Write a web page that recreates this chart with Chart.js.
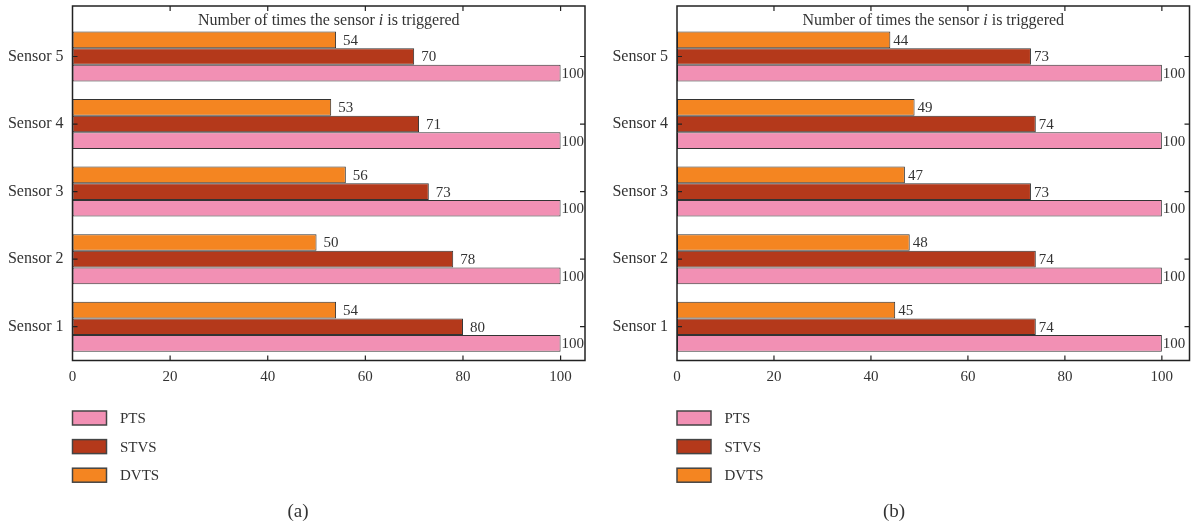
<!DOCTYPE html>
<html>
<head>
<meta charset="utf-8">
<script src="https://cdn.jsdelivr.net/npm/chart.js@4/dist/chart.umd.min.js"></script>
<style>
  body { margin: 0; background: #fff; }
  .panel { position: absolute; top: 0; width: 596px; height: 529px; }
</style>
</head>
<body>
<div class="panel" style="left:0"><canvas id="chartA"></canvas></div>
<div class="panel" style="left:596px"><canvas id="chartB"></canvas></div>
<script>
const sensors = ['Sensor 1', 'Sensor 2', 'Sensor 3', 'Sensor 4', 'Sensor 5'];
const xTicks = [0, 20, 40, 60, 80, 100];

// panel (a)
const ptsA = [100, 100, 100, 100, 100];
const stvsA = [80, 78, 73, 71, 70];
const dvtsA = [54, 50, 56, 53, 54];

// panel (b)
const ptsB = [100, 100, 100, 100, 100];
const stvsB = [74, 74, 73, 74, 73];
const dvtsB = [45, 48, 47, 49, 44];

const titleText = 'Number of times the sensor ';
const FONT = "'Liberation Serif', 'DejaVu Serif', serif";
const TXT = '#333';
const colors = { PTS: '#f290b4', STVS: '#b4391b', DVTS: '#f48521' };

// frame, inward ticks, title, value labels, legend and caption
const decor = {
  id: 'decor',
  afterDatasetsDraw(chart, args, opts) {
    const ctx = chart.ctx;
    const a = chart.chartArea;
    const xs = chart.scales.x, ys = chart.scales.y;
    const top = 6;
    ctx.save();

    // value labels
    ctx.font = '15px ' + FONT;
    ctx.fillStyle = TXT;
    ctx.textBaseline = 'middle';
    ctx.textAlign = 'left';
    chart.data.datasets.forEach((ds, di) => {
      chart.getDatasetMeta(di).data.forEach((bar, i) => {
        const v = ds.data[i];
        const gap = v >= 100 ? 1 : opts.gap;
        ctx.fillText(String(v), bar.x + gap, bar.y + 1);
      });
    });

    // frame
    ctx.strokeStyle = '#222';
    ctx.lineWidth = 1.5;
    ctx.strokeRect(a.left, top, a.right - a.left, a.bottom - top);

    // inward ticks
    ctx.lineWidth = 1.2;
    ctx.beginPath();
    xTicks.slice(1).forEach(t => {
      const px = xs.getPixelForValue(t);
      ctx.moveTo(px, a.bottom); ctx.lineTo(px, a.bottom - 5);
      ctx.moveTo(px, top); ctx.lineTo(px, top + 5);
    });
    sensors.forEach((s, i) => {
      const py = ys.getPixelForValue(i);
      ctx.moveTo(a.left, py); ctx.lineTo(a.left + 5, py);
      ctx.moveTo(a.right, py); ctx.lineTo(a.right - 5, py);
    });
    ctx.stroke();

    // title inside frame
    ctx.fillStyle = TXT;
    ctx.textBaseline = 'alphabetic';
    const f1 = '16px ' + FONT, f2 = 'italic 16px ' + FONT;
    const parts = [[titleText, f1], ['i', f2], [' is triggered', f1]];
    let w = 0;
    parts.forEach(p => { ctx.font = p[1]; w += ctx.measureText(p[0]).width; });
    let x = (a.left + a.right) / 2 - w / 2;
    parts.forEach(p => {
      ctx.font = p[1];
      ctx.fillText(p[0], x, 25);
      x += ctx.measureText(p[0]).width;
    });

    // legend
    const order = chart.data.datasets.slice().reverse();
    ctx.font = '15px ' + FONT;
    ctx.textBaseline = 'middle';
    order.forEach((ds, i) => {
      const cy = 418 + i * 28.6;
      ctx.fillStyle = ds.backgroundColor;
      ctx.fillRect(a.left, cy - 7, 34, 14);
      ctx.strokeStyle = '#444';
      ctx.lineWidth = 1.5;
      ctx.strokeRect(a.left, cy - 7, 34, 14);
      ctx.fillStyle = TXT;
      ctx.fillText(ds.label, a.left + 47.5, cy + 1);
    });

    // caption
    ctx.font = '19px ' + FONT;
    ctx.textAlign = 'center';
    ctx.fillText(opts.caption, chart.width / 2, 512);
    ctx.restore();
  }
};

function makeChart(id, pts, stvs, dvts, cfg) {
  const ctx = document.getElementById(id).getContext('2d');
  return new Chart(ctx, {
    type: 'bar',
    data: {
      labels: sensors,
      datasets: [
        { label: 'DVTS', data: dvts, backgroundColor: colors.DVTS },
        { label: 'STVS', data: stvs, backgroundColor: colors.STVS },
        { label: 'PTS', data: pts, backgroundColor: colors.PTS }
      ].map(d => Object.assign(d, {
        borderColor: '#333',
        borderWidth: 1,
        borderSkipped: false,
        categoryPercentage: 0.74,
        barPercentage: 1
      }))
    },
    options: {
      indexAxis: 'y',
      responsive: true,
      maintainAspectRatio: false,
      animation: false,
      layout: { padding: { left: 0, right: cfg.padRight, top: 22.7, bottom: 138.5 } },
      scales: {
        x: {
          min: 0,
          max: cfg.max,
          afterFit: s => { s.height = 30; },
          grid: { display: false, drawTicks: false },
          border: { display: false },
          ticks: {
            stepSize: 20,
            includeBounds: false,
            padding: 8,
            color: TXT,
            font: { family: FONT, size: 15 }
          }
        },
        y: {
          reverse: true,
          afterFit: s => { s.width = cfg.left; },
          grid: { display: false, drawTicks: false },
          border: { display: false },
          ticks: {
            padding: 9,
            color: TXT,
            font: { family: FONT, size: 16 }
          }
        }
      },
      plugins: {
        legend: { display: false },
        tooltip: { enabled: false },
        decor: { gap: cfg.gap, caption: cfg.caption }
      }
    },
    plugins: [decor]
  });
}

makeChart('chartA', ptsA, stvsA, dvtsA, { left: 72.5, padRight: 11, max: 105, gap: 7, caption: '(a)' });
makeChart('chartB', ptsB, stvsB, dvtsB, { left: 81, padRight: 2.5, max: 105.7, gap: 3, caption: '(b)' });
</script>
</body>
</html>
